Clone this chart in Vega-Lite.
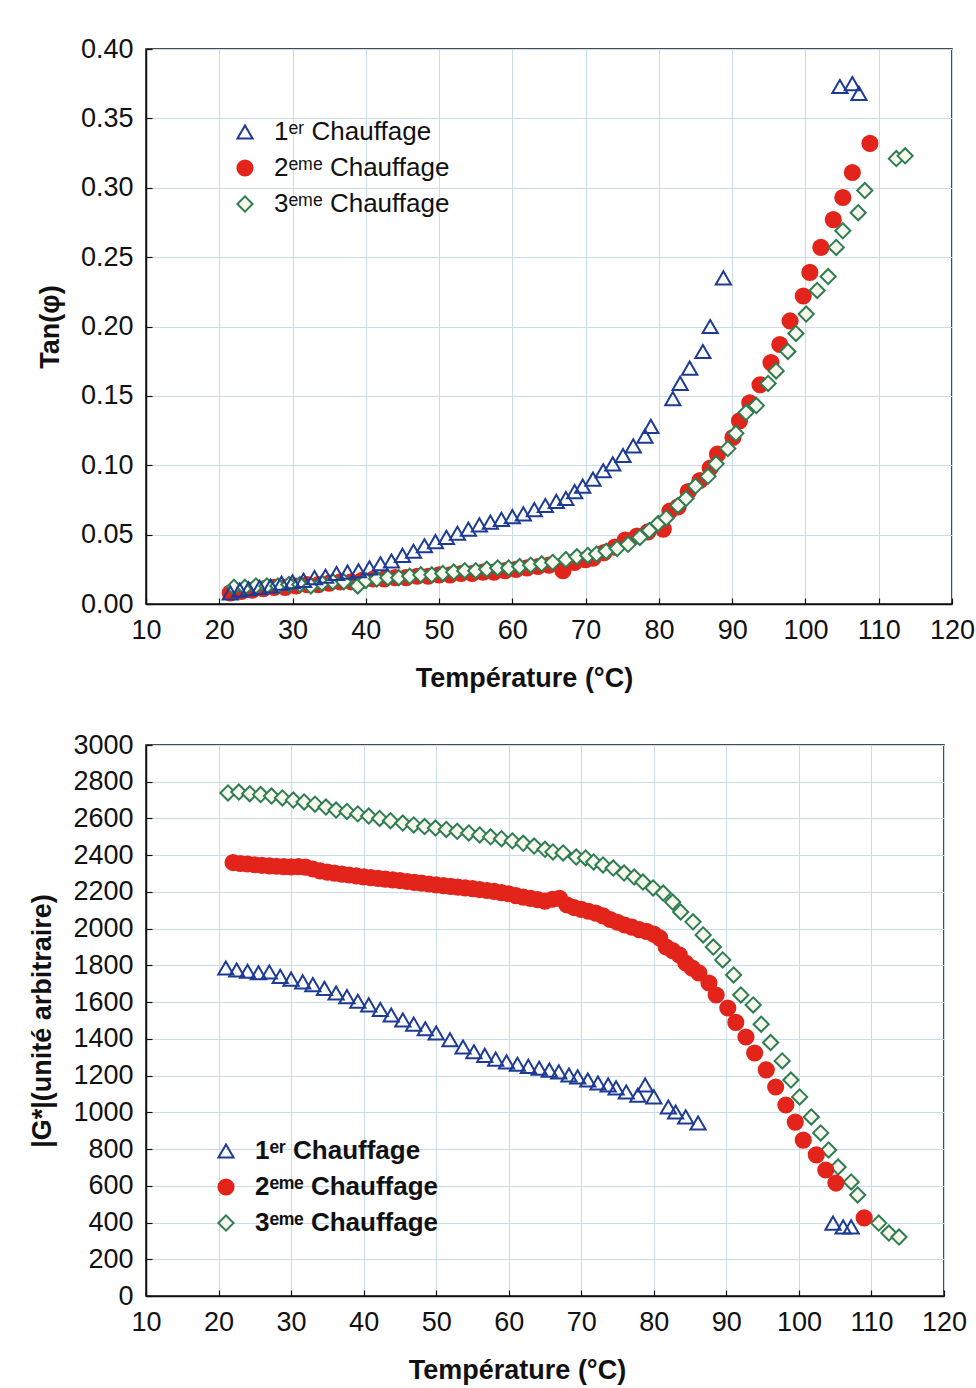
{
  "$schema": "https://vega.github.io/schema/vega-lite/v6.json",
  "background": "white",
  "padding": {"left": 28, "top": 34, "right": 20, "bottom": 5},
  "datasets": {
    "tan": [
      {"h": "2", "T": 21.5, "v": 0.008}, {"h": "2", "T": 23, "v": 0.009}, {"h": "2", "T": 24.5, "v": 0.010},
      {"h": "2", "T": 26, "v": 0.011}, {"h": "2", "T": 27.5, "v": 0.012}, {"h": "2", "T": 29, "v": 0.012},
      {"h": "2", "T": 30.5, "v": 0.013}, {"h": "2", "T": 32, "v": 0.014}, {"h": "2", "T": 33.5, "v": 0.014},
      {"h": "2", "T": 35, "v": 0.015}, {"h": "2", "T": 36.5, "v": 0.016}, {"h": "2", "T": 38, "v": 0.016},
      {"h": "2", "T": 39.5, "v": 0.017}, {"h": "2", "T": 41, "v": 0.018}, {"h": "2", "T": 42.5, "v": 0.018},
      {"h": "2", "T": 44, "v": 0.019}, {"h": "2", "T": 45.5, "v": 0.019}, {"h": "2", "T": 47, "v": 0.020},
      {"h": "2", "T": 48.5, "v": 0.020}, {"h": "2", "T": 50, "v": 0.021}, {"h": "2", "T": 51.5, "v": 0.021},
      {"h": "2", "T": 53, "v": 0.022}, {"h": "2", "T": 54.5, "v": 0.022}, {"h": "2", "T": 56, "v": 0.023},
      {"h": "2", "T": 57.5, "v": 0.023}, {"h": "2", "T": 59, "v": 0.024}, {"h": "2", "T": 60.5, "v": 0.025},
      {"h": "2", "T": 62, "v": 0.026}, {"h": "2", "T": 63.5, "v": 0.027}, {"h": "2", "T": 65, "v": 0.028},
      {"h": "2", "T": 66.9, "v": 0.024}, {"h": "2", "T": 68.5, "v": 0.030}, {"h": "2", "T": 70, "v": 0.032},
      {"h": "2", "T": 71, "v": 0.033}, {"h": "2", "T": 72.5, "v": 0.037}, {"h": "2", "T": 74, "v": 0.041},
      {"h": "2", "T": 75.4, "v": 0.046}, {"h": "2", "T": 77, "v": 0.049}, {"h": "2", "T": 78.5, "v": 0.052},
      {"h": "2", "T": 80.6, "v": 0.054}, {"h": "2", "T": 81.5, "v": 0.067}, {"h": "2", "T": 82.6, "v": 0.070},
      {"h": "2", "T": 84, "v": 0.081}, {"h": "2", "T": 85.6, "v": 0.089}, {"h": "2", "T": 87, "v": 0.098},
      {"h": "2", "T": 88, "v": 0.108}, {"h": "2", "T": 90.1, "v": 0.120}, {"h": "2", "T": 91, "v": 0.132},
      {"h": "2", "T": 92.4, "v": 0.145}, {"h": "2", "T": 93.8, "v": 0.158}, {"h": "2", "T": 95.3, "v": 0.174},
      {"h": "2", "T": 96.5, "v": 0.187}, {"h": "2", "T": 97.9, "v": 0.204}, {"h": "2", "T": 99.7, "v": 0.222},
      {"h": "2", "T": 100.6, "v": 0.239}, {"h": "2", "T": 102.1, "v": 0.257}, {"h": "2", "T": 103.8, "v": 0.277},
      {"h": "2", "T": 105.1, "v": 0.293}, {"h": "2", "T": 106.4, "v": 0.311}, {"h": "2", "T": 108.8, "v": 0.332},

      {"h": "3", "T": 22, "v": 0.012}, {"h": "3", "T": 23.5, "v": 0.012}, {"h": "3", "T": 25, "v": 0.013},
      {"h": "3", "T": 26.5, "v": 0.013}, {"h": "3", "T": 28, "v": 0.013}, {"h": "3", "T": 29.5, "v": 0.014},
      {"h": "3", "T": 31, "v": 0.014}, {"h": "3", "T": 32.5, "v": 0.013}, {"h": "3", "T": 34, "v": 0.015},
      {"h": "3", "T": 35.5, "v": 0.016}, {"h": "3", "T": 37, "v": 0.016}, {"h": "3", "T": 38.9, "v": 0.013},
      {"h": "3", "T": 40, "v": 0.017}, {"h": "3", "T": 41.5, "v": 0.018}, {"h": "3", "T": 43, "v": 0.019},
      {"h": "3", "T": 44.5, "v": 0.019}, {"h": "3", "T": 46, "v": 0.020}, {"h": "3", "T": 47.5, "v": 0.021},
      {"h": "3", "T": 49, "v": 0.021}, {"h": "3", "T": 50.5, "v": 0.022}, {"h": "3", "T": 52, "v": 0.023},
      {"h": "3", "T": 53.5, "v": 0.024}, {"h": "3", "T": 55, "v": 0.024}, {"h": "3", "T": 56.5, "v": 0.025},
      {"h": "3", "T": 58, "v": 0.026}, {"h": "3", "T": 59.5, "v": 0.026}, {"h": "3", "T": 61, "v": 0.027},
      {"h": "3", "T": 62.5, "v": 0.028}, {"h": "3", "T": 64, "v": 0.029}, {"h": "3", "T": 65.5, "v": 0.030},
      {"h": "3", "T": 67.3, "v": 0.032}, {"h": "3", "T": 68.8, "v": 0.034}, {"h": "3", "T": 70.3, "v": 0.035},
      {"h": "3", "T": 71.5, "v": 0.036}, {"h": "3", "T": 72.8, "v": 0.038}, {"h": "3", "T": 74.3, "v": 0.040},
      {"h": "3", "T": 75.8, "v": 0.043}, {"h": "3", "T": 77.4, "v": 0.048}, {"h": "3", "T": 78.7, "v": 0.053},
      {"h": "3", "T": 79.9, "v": 0.058}, {"h": "3", "T": 81, "v": 0.062}, {"h": "3", "T": 82.6, "v": 0.071},
      {"h": "3", "T": 83.7, "v": 0.076}, {"h": "3", "T": 85, "v": 0.085}, {"h": "3", "T": 86.7, "v": 0.092},
      {"h": "3", "T": 87.8, "v": 0.101}, {"h": "3", "T": 89.4, "v": 0.112}, {"h": "3", "T": 90.5, "v": 0.123},
      {"h": "3", "T": 91.9, "v": 0.138}, {"h": "3", "T": 93.3, "v": 0.143}, {"h": "3", "T": 94.9, "v": 0.159},
      {"h": "3", "T": 96, "v": 0.168}, {"h": "3", "T": 97.6, "v": 0.182}, {"h": "3", "T": 98.7, "v": 0.195},
      {"h": "3", "T": 100.1, "v": 0.209}, {"h": "3", "T": 101.6, "v": 0.226}, {"h": "3", "T": 103.1, "v": 0.236},
      {"h": "3", "T": 104.2, "v": 0.257}, {"h": "3", "T": 105.1, "v": 0.269}, {"h": "3", "T": 107.2, "v": 0.282},
      {"h": "3", "T": 108.1, "v": 0.298}, {"h": "3", "T": 112.4, "v": 0.321}, {"h": "3", "T": 113.6, "v": 0.323},

      {"h": "1", "T": 21.5, "v": 0.008}, {"h": "1", "T": 22.8, "v": 0.010}, {"h": "1", "T": 24, "v": 0.011},
      {"h": "1", "T": 25.5, "v": 0.012}, {"h": "1", "T": 27, "v": 0.013}, {"h": "1", "T": 28.5, "v": 0.015},
      {"h": "1", "T": 30, "v": 0.016}, {"h": "1", "T": 31.5, "v": 0.017}, {"h": "1", "T": 33, "v": 0.019},
      {"h": "1", "T": 34.5, "v": 0.020}, {"h": "1", "T": 36, "v": 0.022}, {"h": "1", "T": 37.5, "v": 0.023},
      {"h": "1", "T": 39, "v": 0.024}, {"h": "1", "T": 40.5, "v": 0.026}, {"h": "1", "T": 42, "v": 0.029},
      {"h": "1", "T": 43.5, "v": 0.031}, {"h": "1", "T": 45, "v": 0.035}, {"h": "1", "T": 46.5, "v": 0.038},
      {"h": "1", "T": 48, "v": 0.042}, {"h": "1", "T": 49.5, "v": 0.045}, {"h": "1", "T": 51, "v": 0.048},
      {"h": "1", "T": 52.5, "v": 0.051}, {"h": "1", "T": 54, "v": 0.054}, {"h": "1", "T": 55.5, "v": 0.057},
      {"h": "1", "T": 57, "v": 0.059}, {"h": "1", "T": 58.5, "v": 0.061}, {"h": "1", "T": 60, "v": 0.063},
      {"h": "1", "T": 61.5, "v": 0.065}, {"h": "1", "T": 63, "v": 0.068}, {"h": "1", "T": 64.5, "v": 0.071},
      {"h": "1", "T": 66, "v": 0.074}, {"h": "1", "T": 67.3, "v": 0.076}, {"h": "1", "T": 68.5, "v": 0.081},
      {"h": "1", "T": 69.6, "v": 0.085}, {"h": "1", "T": 71, "v": 0.090}, {"h": "1", "T": 72.4, "v": 0.096},
      {"h": "1", "T": 73.7, "v": 0.101}, {"h": "1", "T": 75.1, "v": 0.107}, {"h": "1", "T": 76.5, "v": 0.114},
      {"h": "1", "T": 78.1, "v": 0.121}, {"h": "1", "T": 78.9, "v": 0.128}, {"h": "1", "T": 81.9, "v": 0.148},
      {"h": "1", "T": 82.9, "v": 0.159}, {"h": "1", "T": 84.2, "v": 0.170}, {"h": "1", "T": 86, "v": 0.182},
      {"h": "1", "T": 87, "v": 0.200}, {"h": "1", "T": 88.8, "v": 0.235}, {"h": "1", "T": 104.7, "v": 0.373},
      {"h": "1", "T": 106.4, "v": 0.375}, {"h": "1", "T": 107.3, "v": 0.368}
    ],
    "g": [
      {"h": "3", "T": 21.3, "v": 2739}, {"h": "3", "T": 22.8, "v": 2744}, {"h": "3", "T": 24.3, "v": 2735},
      {"h": "3", "T": 25.8, "v": 2730}, {"h": "3", "T": 27.3, "v": 2722}, {"h": "3", "T": 28.8, "v": 2712},
      {"h": "3", "T": 30.3, "v": 2700}, {"h": "3", "T": 31.8, "v": 2690}, {"h": "3", "T": 33.3, "v": 2678},
      {"h": "3", "T": 34.8, "v": 2662}, {"h": "3", "T": 36.2, "v": 2646}, {"h": "3", "T": 37.7, "v": 2638},
      {"h": "3", "T": 39.2, "v": 2625}, {"h": "3", "T": 40.7, "v": 2613}, {"h": "3", "T": 42.2, "v": 2600},
      {"h": "3", "T": 43.7, "v": 2588}, {"h": "3", "T": 45.4, "v": 2575}, {"h": "3", "T": 46.9, "v": 2565},
      {"h": "3", "T": 48.4, "v": 2556}, {"h": "3", "T": 49.9, "v": 2548}, {"h": "3", "T": 51.4, "v": 2540},
      {"h": "3", "T": 52.9, "v": 2530}, {"h": "3", "T": 54.5, "v": 2521}, {"h": "3", "T": 56, "v": 2510},
      {"h": "3", "T": 57.5, "v": 2500}, {"h": "3", "T": 59, "v": 2490}, {"h": "3", "T": 60.5, "v": 2478},
      {"h": "3", "T": 62, "v": 2465}, {"h": "3", "T": 63.5, "v": 2450}, {"h": "3", "T": 65, "v": 2432},
      {"h": "3", "T": 66.1, "v": 2418}, {"h": "3", "T": 67.5, "v": 2412}, {"h": "3", "T": 69.3, "v": 2390},
      {"h": "3", "T": 70.6, "v": 2385}, {"h": "3", "T": 71.7, "v": 2363}, {"h": "3", "T": 73, "v": 2347},
      {"h": "3", "T": 74.4, "v": 2330}, {"h": "3", "T": 75.9, "v": 2303}, {"h": "3", "T": 77.3, "v": 2281},
      {"h": "3", "T": 78.5, "v": 2254}, {"h": "3", "T": 79.9, "v": 2222}, {"h": "3", "T": 81.3, "v": 2194},
      {"h": "3", "T": 82.6, "v": 2145}, {"h": "3", "T": 83.7, "v": 2091}, {"h": "3", "T": 85.4, "v": 2037},
      {"h": "3", "T": 86.8, "v": 1966}, {"h": "3", "T": 88.2, "v": 1900}, {"h": "3", "T": 89.5, "v": 1830},
      {"h": "3", "T": 91, "v": 1748}, {"h": "3", "T": 92, "v": 1639}, {"h": "3", "T": 93.7, "v": 1585},
      {"h": "3", "T": 94.8, "v": 1480}, {"h": "3", "T": 96.1, "v": 1380}, {"h": "3", "T": 97.7, "v": 1280},
      {"h": "3", "T": 98.9, "v": 1176}, {"h": "3", "T": 100.1, "v": 1084}, {"h": "3", "T": 101.7, "v": 975},
      {"h": "3", "T": 103, "v": 888}, {"h": "3", "T": 104.1, "v": 795}, {"h": "3", "T": 105.4, "v": 702},
      {"h": "3", "T": 107.2, "v": 621}, {"h": "3", "T": 108.1, "v": 550}, {"h": "3", "T": 111, "v": 397},
      {"h": "3", "T": 112.4, "v": 343}, {"h": "3", "T": 113.8, "v": 321},

      {"h": "2", "T": 22, "v": 2360}, {"h": "2", "T": 23, "v": 2355}, {"h": "2", "T": 24, "v": 2352},
      {"h": "2", "T": 25, "v": 2348}, {"h": "2", "T": 26, "v": 2345}, {"h": "2", "T": 27, "v": 2342},
      {"h": "2", "T": 28, "v": 2340}, {"h": "2", "T": 29, "v": 2338}, {"h": "2", "T": 30, "v": 2336},
      {"h": "2", "T": 31, "v": 2338}, {"h": "2", "T": 32, "v": 2335}, {"h": "2", "T": 33, "v": 2325},
      {"h": "2", "T": 34, "v": 2315}, {"h": "2", "T": 35, "v": 2308}, {"h": "2", "T": 36, "v": 2302},
      {"h": "2", "T": 37, "v": 2297}, {"h": "2", "T": 38, "v": 2292}, {"h": "2", "T": 39, "v": 2287},
      {"h": "2", "T": 40, "v": 2282}, {"h": "2", "T": 41, "v": 2278}, {"h": "2", "T": 42, "v": 2274},
      {"h": "2", "T": 43, "v": 2270}, {"h": "2", "T": 44, "v": 2266}, {"h": "2", "T": 45, "v": 2262},
      {"h": "2", "T": 46, "v": 2257}, {"h": "2", "T": 47, "v": 2252}, {"h": "2", "T": 48, "v": 2248},
      {"h": "2", "T": 49, "v": 2243}, {"h": "2", "T": 50, "v": 2238}, {"h": "2", "T": 51, "v": 2234},
      {"h": "2", "T": 52, "v": 2230}, {"h": "2", "T": 53, "v": 2226}, {"h": "2", "T": 54, "v": 2222},
      {"h": "2", "T": 55, "v": 2218}, {"h": "2", "T": 56, "v": 2213}, {"h": "2", "T": 57, "v": 2208},
      {"h": "2", "T": 58, "v": 2203}, {"h": "2", "T": 59, "v": 2196}, {"h": "2", "T": 60, "v": 2190},
      {"h": "2", "T": 61, "v": 2180}, {"h": "2", "T": 62, "v": 2172}, {"h": "2", "T": 63, "v": 2165},
      {"h": "2", "T": 64, "v": 2158}, {"h": "2", "T": 65, "v": 2150}, {"h": "2", "T": 66, "v": 2160},
      {"h": "2", "T": 67, "v": 2165}, {"h": "2", "T": 68, "v": 2130}, {"h": "2", "T": 69, "v": 2115},
      {"h": "2", "T": 70, "v": 2105}, {"h": "2", "T": 71, "v": 2095}, {"h": "2", "T": 72, "v": 2085},
      {"h": "2", "T": 73, "v": 2070}, {"h": "2", "T": 74, "v": 2050}, {"h": "2", "T": 75, "v": 2035},
      {"h": "2", "T": 76, "v": 2020}, {"h": "2", "T": 77, "v": 2008}, {"h": "2", "T": 78, "v": 1995},
      {"h": "2", "T": 79, "v": 1985}, {"h": "2", "T": 80, "v": 1970}, {"h": "2", "T": 80.8, "v": 1950},
      {"h": "2", "T": 81.7, "v": 1900}, {"h": "2", "T": 82.6, "v": 1880}, {"h": "2", "T": 83.5, "v": 1857},
      {"h": "2", "T": 84.4, "v": 1813}, {"h": "2", "T": 85.3, "v": 1785}, {"h": "2", "T": 86.2, "v": 1759},
      {"h": "2", "T": 87.6, "v": 1704}, {"h": "2", "T": 88.6, "v": 1639}, {"h": "2", "T": 90.2, "v": 1568},
      {"h": "2", "T": 91.3, "v": 1490}, {"h": "2", "T": 92.7, "v": 1410}, {"h": "2", "T": 93.9, "v": 1323},
      {"h": "2", "T": 95.5, "v": 1231}, {"h": "2", "T": 96.8, "v": 1138}, {"h": "2", "T": 98.2, "v": 1040},
      {"h": "2", "T": 99.5, "v": 947}, {"h": "2", "T": 100.6, "v": 849}, {"h": "2", "T": 102.4, "v": 768},
      {"h": "2", "T": 103.7, "v": 686}, {"h": "2", "T": 105.1, "v": 615}, {"h": "2", "T": 109, "v": 425},

      {"h": "1", "T": 21, "v": 1786}, {"h": "1", "T": 22.5, "v": 1775}, {"h": "1", "T": 24, "v": 1768},
      {"h": "1", "T": 25.5, "v": 1760}, {"h": "1", "T": 27, "v": 1764}, {"h": "1", "T": 28.5, "v": 1740},
      {"h": "1", "T": 30, "v": 1725}, {"h": "1", "T": 31.6, "v": 1710}, {"h": "1", "T": 33, "v": 1695},
      {"h": "1", "T": 34.6, "v": 1675}, {"h": "1", "T": 36.2, "v": 1650}, {"h": "1", "T": 37.7, "v": 1630},
      {"h": "1", "T": 39.2, "v": 1605}, {"h": "1", "T": 40.7, "v": 1585}, {"h": "1", "T": 42.3, "v": 1560},
      {"h": "1", "T": 43.8, "v": 1530}, {"h": "1", "T": 45.4, "v": 1503}, {"h": "1", "T": 46.9, "v": 1480},
      {"h": "1", "T": 48.5, "v": 1455}, {"h": "1", "T": 50, "v": 1432}, {"h": "1", "T": 51.9, "v": 1395},
      {"h": "1", "T": 53.7, "v": 1356}, {"h": "1", "T": 55.2, "v": 1330}, {"h": "1", "T": 56.7, "v": 1310},
      {"h": "1", "T": 58.2, "v": 1290}, {"h": "1", "T": 59.7, "v": 1275}, {"h": "1", "T": 61.2, "v": 1262},
      {"h": "1", "T": 62.7, "v": 1250}, {"h": "1", "T": 64.2, "v": 1240}, {"h": "1", "T": 65.6, "v": 1230},
      {"h": "1", "T": 66.9, "v": 1220}, {"h": "1", "T": 68.3, "v": 1203}, {"h": "1", "T": 69.5, "v": 1193},
      {"h": "1", "T": 70.9, "v": 1176}, {"h": "1", "T": 72.3, "v": 1160}, {"h": "1", "T": 73.7, "v": 1149},
      {"h": "1", "T": 74.8, "v": 1133}, {"h": "1", "T": 76.2, "v": 1111}, {"h": "1", "T": 77.8, "v": 1094},
      {"h": "1", "T": 78.8, "v": 1149}, {"h": "1", "T": 80, "v": 1084}, {"h": "1", "T": 82, "v": 1029},
      {"h": "1", "T": 83, "v": 1002}, {"h": "1", "T": 84.4, "v": 975}, {"h": "1", "T": 86.1, "v": 942},
      {"h": "1", "T": 104.7, "v": 397}, {"h": "1", "T": 106.1, "v": 376}, {"h": "1", "T": 107.2, "v": 376}
    ]
  },
  "columns": 1,
  "align": "none",
  "concat": [
    {
      "width": 806,
      "height": 555,
      "data": {"name": "tan"},
      "mark": {"type": "point", "size": 230, "strokeWidth": 2, "opacity": 1},
      "encoding": {
        "x": {
          "field": "T", "type": "quantitative",
          "scale": {"domain": [10, 120], "nice": false, "zero": false},
          "axis": {"values": [10, 20, 30, 40, 50, 60, 70, 80, 90, 100, 110, 120], "title": "Température (°C)", "titleX": 378}
        },
        "y": {
          "field": "v", "type": "quantitative",
          "scale": {"domain": [0, 0.4], "nice": false},
          "axis": {"values": [0, 0.05, 0.1, 0.15, 0.2, 0.25, 0.3, 0.35, 0.4], "format": ".2f", "title": "Tan(φ)", "titlePadding": 16}
        },
        "shape": {
          "field": "h", "type": "nominal",
          "scale": {"domain": ["1", "2", "3"], "range": ["triangle-up", "circle", "diamond"]},
          "legend": {"orient": "none", "legendX": 86, "legendY": 70, "title": null, "labelFontWeight": "normal",
            "labelExpr": "datum.label == '1' ? '1ᵉʳ Chauffage' : datum.label == '2' ? '2ᵉᵐᵉ Chauffage' : '3ᵉᵐᵉ Chauffage'"}
        },
        "stroke": {
          "field": "h", "type": "nominal",
          "scale": {"domain": ["1", "2", "3"], "range": ["#1d3a94", "#e3241b", "#2e7d51"]},
          "legend": {"orient": "none", "legendX": 86, "legendY": 70, "title": null, "labelFontWeight": "normal",
            "labelExpr": "datum.label == '1' ? '1ᵉʳ Chauffage' : datum.label == '2' ? '2ᵉᵐᵉ Chauffage' : '3ᵉᵐᵉ Chauffage'"}
        },
        "fill": {
          "field": "h", "type": "nominal",
          "scale": {"domain": ["1", "2", "3"], "range": ["transparent", "#e3241b", "#f7f7ee"]},
          "legend": {"orient": "none", "legendX": 86, "legendY": 70, "title": null, "labelFontWeight": "normal",
            "labelExpr": "datum.label == '1' ? '1ᵉʳ Chauffage' : datum.label == '2' ? '2ᵉᵐᵉ Chauffage' : '3ᵉᵐᵉ Chauffage'"}
        }
      }
    },
    {
      "width": 798,
      "height": 551,
      "data": {"name": "g"},
      "mark": {"type": "point", "size": 230, "strokeWidth": 2, "opacity": 1},
      "encoding": {
        "x": {
          "field": "T", "type": "quantitative",
          "scale": {"domain": [10, 120], "nice": false, "zero": false},
          "axis": {"values": [10, 20, 30, 40, 50, 60, 70, 80, 90, 100, 110, 120], "title": "Température (°C)", "titleX": 371}
        },
        "y": {
          "field": "v", "type": "quantitative",
          "scale": {"domain": [0, 3000], "nice": false},
          "axis": {"values": [0, 200, 400, 600, 800, 1000, 1200, 1400, 1600, 1800, 2000, 2200, 2400, 2600, 2800, 3000], "format": "d", "title": "|G*|(unité arbitraire)", "titlePadding": 16}
        },
        "shape": {
          "field": "h", "type": "nominal",
          "scale": {"domain": ["1", "2", "3"], "range": ["triangle-up", "circle", "diamond"]},
          "legend": {"orient": "none", "legendX": 67, "legendY": 393, "title": null, "labelFontWeight": "bold",
            "labelExpr": "datum.label == '1' ? '1ᵉʳ Chauffage' : datum.label == '2' ? '2ᵉᵐᵉ Chauffage' : '3ᵉᵐᵉ Chauffage'"}
        },
        "stroke": {
          "field": "h", "type": "nominal",
          "scale": {"domain": ["1", "2", "3"], "range": ["#1d3a94", "#e3241b", "#2e7d51"]},
          "legend": {"orient": "none", "legendX": 67, "legendY": 393, "title": null, "labelFontWeight": "bold",
            "labelExpr": "datum.label == '1' ? '1ᵉʳ Chauffage' : datum.label == '2' ? '2ᵉᵐᵉ Chauffage' : '3ᵉᵐᵉ Chauffage'"}
        },
        "fill": {
          "field": "h", "type": "nominal",
          "scale": {"domain": ["1", "2", "3"], "range": ["transparent", "#e3241b", "#f7f7ee"]},
          "legend": {"orient": "none", "legendX": 67, "legendY": 393, "title": null, "labelFontWeight": "bold",
            "labelExpr": "datum.label == '1' ? '1ᵉʳ Chauffage' : datum.label == '2' ? '2ᵉᵐᵉ Chauffage' : '3ᵉᵐᵉ Chauffage'"}
        }
      }
    }
  ],
  "resolve": {"scale": {"shape": "independent", "stroke": "independent", "fill": "independent"}, "legend": {"shape": "independent", "stroke": "independent", "fill": "independent"}},
  "config": {
    "font": "Liberation Sans",
    "view": {"stroke": "#111111", "strokeWidth": 1.5},
    "concat": {"spacing": 38},
    "axis": {
      "labelFont": "Liberation Sans",
      "labelFontSize": 27,
      "labelColor": "#111111",
      "labelPadding": 19,
      "titleFont": "Liberation Sans",
      "titleFontSize": 27,
      "titleFontWeight": "bold",
      "titleColor": "#111111",
      "domainColor": "#111111",
      "domainWidth": 1.5,
      "tickColor": "#111111",
      "tickSize": -6,
      "tickWidth": 1.2,
      "gridColor": "#c9dce8",
      "gridWidth": 1,
      "labelFlush": false,
      "labelOverlap": false
    },
    "axisX": {"titlePadding": 22},
    "legend": {
      "labelFont": "Liberation Sans",
      "labelFontSize": 26,
      "labelColor": "#111111",
      "labelLimit": 500,
      "symbolSize": 230,
      "symbolStrokeWidth": 2,
      "rowPadding": 10,
      "labelOffset": 16
    }
  }
}
